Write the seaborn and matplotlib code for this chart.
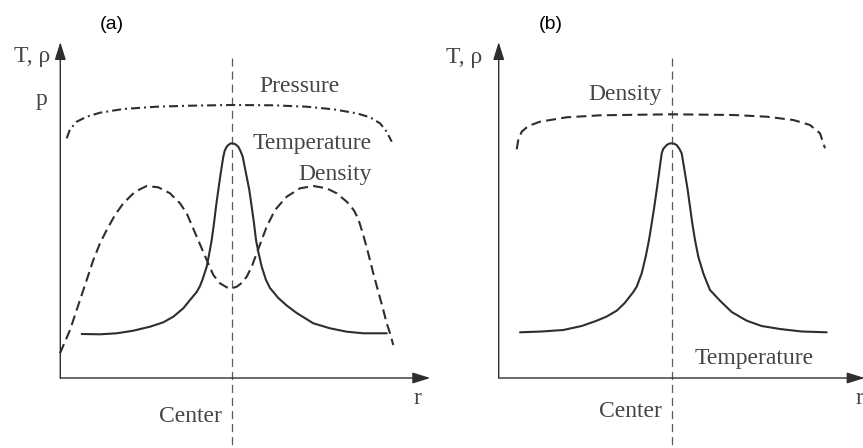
import matplotlib
matplotlib.use("Agg")
import matplotlib.pyplot as plt
import seaborn as sns
import pandas as pd

# Radial profiles relative to the arc centre (r = 0); heights above the r axis.
# Panel (a): hollow-density arc
r_a_temp = [-150.6, -132.3, -115.6, -99, -82.3, -69, -59, -49, -42.3, -35.6, -32.3, -29.6,
            -25.6, -23, -20.6, -18.3, -16.3, -14, -11.6, -9, -7.5, -5.6, -4, -2, 0,
            3, 6, 8.2, 10.4, 13.7, 17, 19.4, 21.7, 23.7, 26, 29.4, 33.7, 37.7, 46, 54.4, 64.4,
            81, 97.7, 114.4, 131, 154.4]
v_a_temp = [44, 43.7, 44.7, 47.3, 51.3, 55.7, 61.3, 69.7, 78, 86, 92, 99,
            111.3, 124.7, 138, 154.7, 171.3, 188, 204.7, 221.3, 227.5, 231.3, 233, 234.4, 234.7,
            233.8, 231.3, 227, 221.3, 204.7, 188, 171.3, 154.7, 138, 126.3, 111.3, 98, 90, 80, 72.5, 65,
            54.7, 49.7, 46.3, 44.7, 44.7]

r_a_dens = [-172.3, -167.3, -162.3, -157.3, -152.3, -145.6, -139, -132.3, -125.6, -117.3,
            -109, -97.3, -85.6, -74, -62.3, -52.3, -45.6, -40.6, -35.6, -30.6, -25.6,
            -19, -12.3, -5.6, -0.6,
            4.4, 9.4, 14.4, 19.4, 24.4, 29.4, 34.4, 42.7, 54.4, 67.7, 81, 94.4, 104.4, 114.4,
            118, 122, 126, 131, 136, 141, 146, 151, 154.4, 157.7, 161]
v_a_dens = [24.7, 36.3, 48, 63, 78, 98, 118, 134.7, 148, 163,
            174.7, 186.3, 192, 190.7, 184.7, 174.7, 164.7, 153, 141.3, 129.7, 118,
            103, 94.7, 90.7, 89.7,
            91.3, 95, 101.3, 111.3, 124.7, 138, 151.3, 168, 181.3, 189.7, 192, 189.7, 184.7, 176.3,
            172.5, 167, 159, 143, 124.5, 104.7, 86.3, 68, 54.7, 44.7, 33]

r_a_pres = [-165.6, -162.3, -155.6, -145.6, -132.3, -109, -75.6, -42.3, -0.6, 41, 74.4,
            101, 124.4, 137.7, 147.7, 154.4, 159.4]
v_a_pres = [239.7, 248.7, 256.3, 261.3, 265.3, 269, 271.3, 272.3, 273, 272.7, 271.3,
            268.7, 264.7, 260.7, 254.7, 246.3, 236.3]

# Panel (b): uniform-density arc
r_b_temp = [-151.7, -130, -108.4, -90, -75, -65, -55, -47, -38.4, -35, -30, -26, -22.7,
            -20, -17.4, -15, -12.7, -10, -8.5, -5, -2.5, 0,
            2.5, 5, 7.5, 10, 13.3, 16, 18.3, 20.6, 23.3, 26.6, 31.6, 35, 38.3, 48.3, 60, 75, 90,
            108.3, 130, 155]
v_b_temp = [45.7, 46.5, 48, 52, 57.3, 61.5, 67.3, 75, 86, 91.3, 104.7, 121.3, 138,
            154.7, 171.3, 188, 204.7, 224.7, 229, 233, 234.4, 234.7,
            234.3, 232.8, 229.5, 224.7, 204.7, 188, 171.3, 154.7, 138, 121.3, 104.7, 96, 88, 77.3, 66,
            57.3, 52, 49, 46.5, 45.7]

r_b_dens = [-155, -153.4, -150, -143.4, -131.7, -105, -71.7, 0, 61.6, 95, 121.6,
            138.3, 148.3, 153.3]
v_b_dens = [228.7, 238, 246.3, 252, 256.3, 260.7, 262.7, 263.7, 263, 261.3, 258,
            253, 244.7, 229.7]

panel_titles = ["(a)", "(b)"]
axis_label_y = "T, ρ"
axis_label_x = "r"
center_label = "Center"

sns.set_theme(style="white")
plt.rcParams["lines.scale_dashes"] = False
plt.rcParams["font.family"] = ["Liberation Serif", "DejaVu Serif"]

INK = "#2e2e2e"
TXT = "#454545"
GUIDE = "#5a5a5a"

fig = plt.figure(figsize=(8.63, 4.48), dpi=100)
W = 863.0
ax_a = fig.add_axes([0, 0, 431.5 / W, 1])
ax_b = fig.add_axes([431.5 / W, 0, 431.5 / W, 1])
ax_a.set_xlim(-232.3, 199.2)
ax_b.set_xlim(-240.2, 191.3)
for ax in (ax_a, ax_b):
    ax.set_ylim(-70, 378)
    ax.set_axis_off()

dashed = (0, (7.2, 3.8))
dashdot = (0, (6.5, 2.9, 1.4, 2.9))
guide = (0, (5.8, 3.6))


def curve(ax, r, v, ls="-"):
    df = pd.DataFrame({"r": r, "v": v})
    sns.lineplot(data=df, x="r", y="v", ax=ax, sort=False, estimator=None,
                 color=INK, lw=1.5, linestyle=ls,
                 solid_joinstyle="round", solid_capstyle="round",
                 dash_joinstyle="round")


def axes_arrows(ax, x0, xtip, ytip):
    arrow = dict(arrowstyle="-|>,head_length=0.9,head_width=0.28",
                 color=INK, lw=1.0, shrinkA=0, shrinkB=0)
    ax.annotate("", xy=(xtip, 0), xytext=(x0, 0), arrowprops=arrow,
                annotation_clip=False)
    ax.annotate("", xy=(x0, ytip), xytext=(x0, 0), arrowprops=arrow,
                annotation_clip=False)


def center_line(ax):
    ax.plot([0, 0], [320, -70], color=GUIDE, lw=0.9, linestyle=guide)


fs = 17
sans = ["Liberation Sans", "DejaVu Sans"]
# ---- panel (a)
center_line(ax_a)
axes_arrows(ax_a, -172, 198, 336)
curve(ax_a, r_a_pres, v_a_pres, dashdot)
curve(ax_a, r_a_dens, v_a_dens, dashed)
curve(ax_a, r_a_temp, v_a_temp)

ax_a.text(-120, 354, panel_titles[0], ha="center", va="center",
          fontsize=14, family=sans, color="black")
ax_a.text(-182, 316, axis_label_y, ha="right", va="baseline", fontsize=fs, color=TXT)
ax_a.text(-191, 273, "p", ha="center", va="baseline", fontsize=fs, color=TXT)
ax_a.text(27, 286, "Pressure", ha="left", va="baseline", fontsize=fs, color=TXT)
ax_a.text(20, 229, "Temperature", ha="left", va="baseline", fontsize=fs, color=TXT)
ax_a.text(66, 198, "Density", ha="left", va="baseline", fontsize=fs, color=TXT)
ax_a.text(-10, -44, center_label, ha="right", va="baseline", fontsize=fs, color=TXT)
ax_a.text(181, -26, axis_label_x, ha="left", va="baseline", fontsize=fs, color=TXT)

# ---- panel (b)
center_line(ax_b)
axes_arrows(ax_b, -173, 193, 336)
curve(ax_b, r_b_dens, v_b_dens, dashed)
curve(ax_b, r_b_temp, v_b_temp)

ax_b.text(-121, 354, panel_titles[1], ha="center", va="center",
          fontsize=14, family=sans, color="black")
ax_b.text(-189, 315, axis_label_y, ha="right", va="baseline", fontsize=fs, color=TXT)
ax_b.text(-83, 278, "Density", ha="left", va="baseline", fontsize=fs, color=TXT)
ax_b.text(23, 14, "Temperature", ha="left", va="baseline", fontsize=fs, color=TXT)
ax_b.text(-10, -39, center_label, ha="right", va="baseline", fontsize=fs, color=TXT)
ax_b.text(184, -26, axis_label_x, ha="left", va="baseline", fontsize=fs, color=TXT)

fig.savefig("out.png", dpi=100, facecolor="white")
